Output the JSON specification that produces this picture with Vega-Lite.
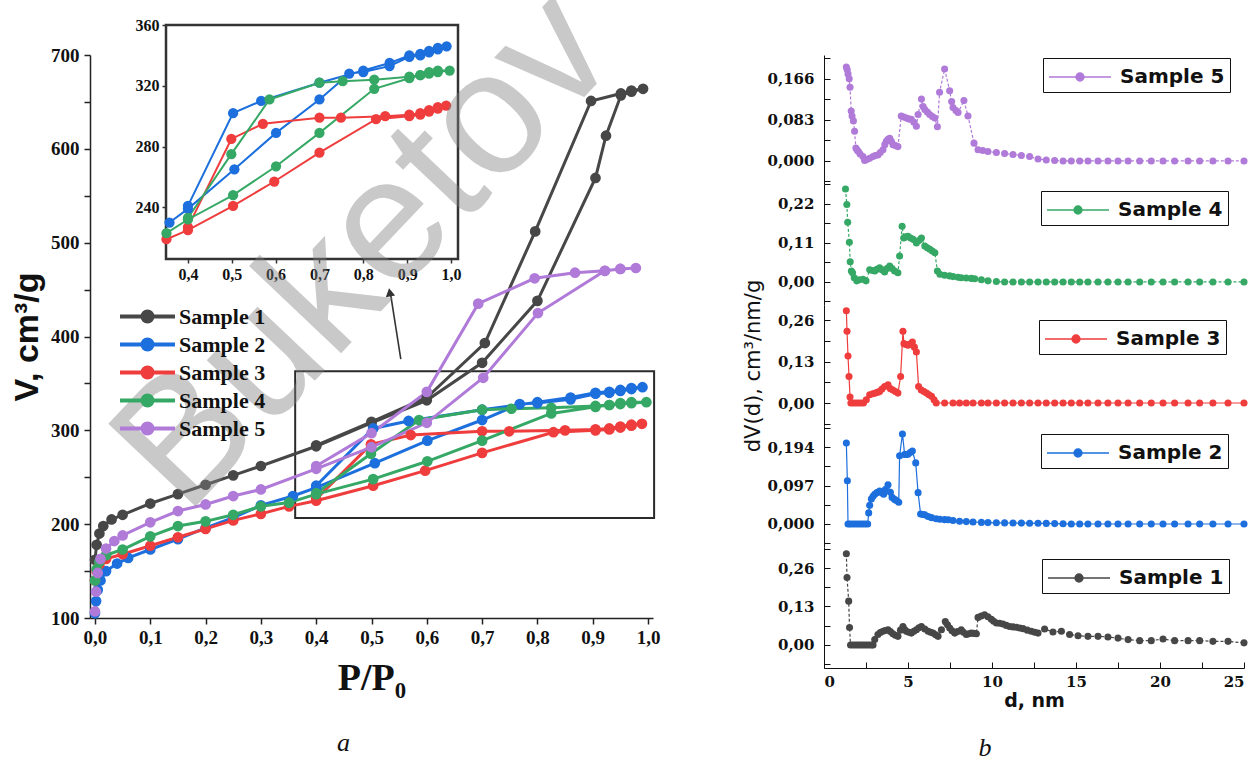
{
"$schema": "https://vega.github.io/schema/vega-lite/v6.json",
"background": "white",
"padding": {"left": 10, "top": -39, "right": 0, "bottom": 0},
"config": {"view": {"stroke": null}, "axis": {"grid": false}},
"datasets": {
"iso": [
{"s":"Sample 1","i":1,"p":0.0,"v":162},{"s":"Sample 1","i":2,"p":0.003,"v":178},{"s":"Sample 1","i":3,"p":0.008,"v":190},{"s":"Sample 1","i":4,"p":0.015,"v":198},{"s":"Sample 1","i":5,"p":0.03,"v":205},{"s":"Sample 1","i":6,"p":0.05,"v":210},{"s":"Sample 1","i":7,"p":0.1,"v":222},{"s":"Sample 1","i":8,"p":0.15,"v":232},{"s":"Sample 1","i":9,"p":0.2,"v":242},{"s":"Sample 1","i":10,"p":0.25,"v":252},{"s":"Sample 1","i":11,"p":0.3,"v":262},{"s":"Sample 1","i":12,"p":0.4,"v":283},{"s":"Sample 1","i":13,"p":0.5,"v":308},{"s":"Sample 1","i":14,"p":0.6,"v":332},{"s":"Sample 1","i":15,"p":0.7,"v":372},{"s":"Sample 1","i":16,"p":0.8,"v":438},{"s":"Sample 1","i":17,"p":0.905,"v":569},{"s":"Sample 1","i":18,"p":0.924,"v":614},{"s":"Sample 1","i":19,"p":0.951,"v":657},{"s":"Sample 1","i":20,"p":0.97,"v":661},{"s":"Sample 1","i":21,"p":0.991,"v":664},{"s":"Sample 1","i":22,"p":0.97,"v":662},{"s":"Sample 1","i":23,"p":0.951,"v":659},{"s":"Sample 1","i":24,"p":0.897,"v":651},{"s":"Sample 1","i":25,"p":0.796,"v":512},{"s":"Sample 1","i":26,"p":0.705,"v":393},{"s":"Sample 1","i":27,"p":0.6,"v":335},{"s":"Sample 1","i":28,"p":0.5,"v":309},{"s":"Sample 1","i":29,"p":0.4,"v":284},
{"s":"Sample 2","i":1,"p":0.0,"v":105},{"s":"Sample 2","i":2,"p":0.002,"v":118},{"s":"Sample 2","i":3,"p":0.005,"v":130},{"s":"Sample 2","i":4,"p":0.01,"v":140},{"s":"Sample 2","i":5,"p":0.02,"v":150},{"s":"Sample 2","i":6,"p":0.04,"v":158},{"s":"Sample 2","i":7,"p":0.06,"v":164},{"s":"Sample 2","i":8,"p":0.1,"v":173},{"s":"Sample 2","i":9,"p":0.15,"v":184},{"s":"Sample 2","i":10,"p":0.2,"v":196},{"s":"Sample 2","i":11,"p":0.25,"v":207},{"s":"Sample 2","i":12,"p":0.3,"v":220},{"s":"Sample 2","i":13,"p":0.358,"v":230},{"s":"Sample 2","i":14,"p":0.4,"v":239},{"s":"Sample 2","i":15,"p":0.506,"v":265},{"s":"Sample 2","i":16,"p":0.601,"v":289},{"s":"Sample 2","i":17,"p":0.7,"v":311},{"s":"Sample 2","i":18,"p":0.768,"v":328},{"s":"Sample 2","i":19,"p":0.8,"v":329},{"s":"Sample 2","i":20,"p":0.86,"v":333},{"s":"Sample 2","i":21,"p":0.905,"v":339},{"s":"Sample 2","i":22,"p":0.93,"v":340},{"s":"Sample 2","i":23,"p":0.95,"v":342},{"s":"Sample 2","i":24,"p":0.97,"v":344},{"s":"Sample 2","i":25,"p":0.99,"v":346},{"s":"Sample 2","i":26,"p":0.97,"v":345},{"s":"Sample 2","i":27,"p":0.95,"v":343},{"s":"Sample 2","i":28,"p":0.93,"v":341},{"s":"Sample 2","i":29,"p":0.905,"v":340},{"s":"Sample 2","i":30,"p":0.86,"v":335},{"s":"Sample 2","i":31,"p":0.8,"v":330},{"s":"Sample 2","i":32,"p":0.7,"v":322},{"s":"Sample 2","i":33,"p":0.567,"v":310},{"s":"Sample 2","i":34,"p":0.503,"v":302},{"s":"Sample 2","i":35,"p":0.4,"v":241},
{"s":"Sample 3","i":1,"p":0.0,"v":140},{"s":"Sample 3","i":2,"p":0.003,"v":150},{"s":"Sample 3","i":3,"p":0.008,"v":157},{"s":"Sample 3","i":4,"p":0.02,"v":163},{"s":"Sample 3","i":5,"p":0.05,"v":168},{"s":"Sample 3","i":6,"p":0.1,"v":177},{"s":"Sample 3","i":7,"p":0.15,"v":186},{"s":"Sample 3","i":8,"p":0.2,"v":195},{"s":"Sample 3","i":9,"p":0.25,"v":204},{"s":"Sample 3","i":10,"p":0.3,"v":211},{"s":"Sample 3","i":11,"p":0.351,"v":219},{"s":"Sample 3","i":12,"p":0.4,"v":225},{"s":"Sample 3","i":13,"p":0.503,"v":241},{"s":"Sample 3","i":14,"p":0.597,"v":257},{"s":"Sample 3","i":15,"p":0.7,"v":276},{"s":"Sample 3","i":16,"p":0.829,"v":298},{"s":"Sample 3","i":17,"p":0.905,"v":300},{"s":"Sample 3","i":18,"p":0.93,"v":301},{"s":"Sample 3","i":19,"p":0.95,"v":303},{"s":"Sample 3","i":20,"p":0.97,"v":305},{"s":"Sample 3","i":21,"p":0.989,"v":307},{"s":"Sample 3","i":22,"p":0.97,"v":306},{"s":"Sample 3","i":23,"p":0.95,"v":304},{"s":"Sample 3","i":24,"p":0.93,"v":302},{"s":"Sample 3","i":25,"p":0.905,"v":301},{"s":"Sample 3","i":26,"p":0.85,"v":300},{"s":"Sample 3","i":27,"p":0.749,"v":299},{"s":"Sample 3","i":28,"p":0.7,"v":299},{"s":"Sample 3","i":29,"p":0.571,"v":295},{"s":"Sample 3","i":30,"p":0.499,"v":285},{"s":"Sample 3","i":31,"p":0.4,"v":227},
{"s":"Sample 4","i":1,"p":0.0,"v":140},{"s":"Sample 4","i":2,"p":0.003,"v":152},{"s":"Sample 4","i":3,"p":0.008,"v":160},{"s":"Sample 4","i":4,"p":0.02,"v":167},{"s":"Sample 4","i":5,"p":0.05,"v":173},{"s":"Sample 4","i":6,"p":0.1,"v":187},{"s":"Sample 4","i":7,"p":0.15,"v":198},{"s":"Sample 4","i":8,"p":0.2,"v":203},{"s":"Sample 4","i":9,"p":0.25,"v":210},{"s":"Sample 4","i":10,"p":0.3,"v":219},{"s":"Sample 4","i":11,"p":0.351,"v":223},{"s":"Sample 4","i":12,"p":0.4,"v":232},{"s":"Sample 4","i":13,"p":0.503,"v":248},{"s":"Sample 4","i":14,"p":0.601,"v":267},{"s":"Sample 4","i":15,"p":0.7,"v":289},{"s":"Sample 4","i":16,"p":0.825,"v":318},{"s":"Sample 4","i":17,"p":0.905,"v":325},{"s":"Sample 4","i":18,"p":0.93,"v":327},{"s":"Sample 4","i":19,"p":0.95,"v":328},{"s":"Sample 4","i":20,"p":0.97,"v":329},{"s":"Sample 4","i":21,"p":0.997,"v":330},{"s":"Sample 4","i":22,"p":0.97,"v":330},{"s":"Sample 4","i":23,"p":0.95,"v":329},{"s":"Sample 4","i":24,"p":0.93,"v":327},{"s":"Sample 4","i":25,"p":0.905,"v":326},{"s":"Sample 4","i":26,"p":0.825,"v":324},{"s":"Sample 4","i":27,"p":0.753,"v":323},{"s":"Sample 4","i":28,"p":0.7,"v":322},{"s":"Sample 4","i":29,"p":0.586,"v":311},{"s":"Sample 4","i":30,"p":0.499,"v":275},{"s":"Sample 4","i":31,"p":0.4,"v":233},
{"s":"Sample 5","i":1,"p":0.0,"v":107},{"s":"Sample 5","i":2,"p":0.002,"v":128},{"s":"Sample 5","i":3,"p":0.005,"v":148},{"s":"Sample 5","i":4,"p":0.01,"v":163},{"s":"Sample 5","i":5,"p":0.02,"v":174},{"s":"Sample 5","i":6,"p":0.035,"v":182},{"s":"Sample 5","i":7,"p":0.05,"v":188},{"s":"Sample 5","i":8,"p":0.1,"v":202},{"s":"Sample 5","i":9,"p":0.15,"v":214},{"s":"Sample 5","i":10,"p":0.2,"v":221},{"s":"Sample 5","i":11,"p":0.25,"v":230},{"s":"Sample 5","i":12,"p":0.3,"v":237},{"s":"Sample 5","i":13,"p":0.4,"v":259},{"s":"Sample 5","i":14,"p":0.5,"v":282},{"s":"Sample 5","i":15,"p":0.6,"v":308},{"s":"Sample 5","i":16,"p":0.702,"v":356},{"s":"Sample 5","i":17,"p":0.801,"v":425},{"s":"Sample 5","i":18,"p":0.922,"v":470},{"s":"Sample 5","i":19,"p":0.95,"v":472},{"s":"Sample 5","i":20,"p":0.978,"v":473},{"s":"Sample 5","i":21,"p":0.95,"v":472},{"s":"Sample 5","i":22,"p":0.922,"v":470},{"s":"Sample 5","i":23,"p":0.868,"v":468},{"s":"Sample 5","i":24,"p":0.795,"v":462},{"s":"Sample 5","i":25,"p":0.693,"v":435},{"s":"Sample 5","i":26,"p":0.6,"v":341},{"s":"Sample 5","i":27,"p":0.5,"v":297},{"s":"Sample 5","i":28,"p":0.4,"v":262}
],
"psd": [
{"s":"Sample 5","d":1.33,"v":0.19},{"s":"Sample 5","d":1.38,"v":0.185},{"s":"Sample 5","d":1.43,"v":0.176},{"s":"Sample 5","d":1.5,"v":0.166},{"s":"Sample 5","d":1.55,"v":0.149},{"s":"Sample 5","d":1.62,"v":0.101},{"s":"Sample 5","d":1.67,"v":0.091},{"s":"Sample 5","d":1.75,"v":0.081},{"s":"Sample 5","d":1.82,"v":0.06},{"s":"Sample 5","d":1.9,"v":0.026},{"s":"Sample 5","d":1.97,"v":0.022},{"s":"Sample 5","d":2.05,"v":0.019},{"s":"Sample 5","d":2.15,"v":0.014},{"s":"Sample 5","d":2.32,"v":0.009},{"s":"Sample 5","d":2.42,"v":0.001},{"s":"Sample 5","d":2.55,"v":0.003},{"s":"Sample 5","d":2.72,"v":0.0055},{"s":"Sample 5","d":2.92,"v":0.009},{"s":"Sample 5","d":3.05,"v":0.011},{"s":"Sample 5","d":3.21,"v":0.012},{"s":"Sample 5","d":3.35,"v":0.017},{"s":"Sample 5","d":3.51,"v":0.0225},{"s":"Sample 5","d":3.62,"v":0.033},{"s":"Sample 5","d":3.71,"v":0.04},{"s":"Sample 5","d":3.81,"v":0.044},{"s":"Sample 5","d":3.91,"v":0.046},{"s":"Sample 5","d":4.01,"v":0.04},{"s":"Sample 5","d":4.11,"v":0.033},{"s":"Sample 5","d":4.25,"v":0.031},{"s":"Sample 5","d":4.4,"v":0.029},{"s":"Sample 5","d":4.6,"v":0.091},{"s":"Sample 5","d":4.75,"v":0.089},{"s":"Sample 5","d":4.9,"v":0.087},{"s":"Sample 5","d":5.05,"v":0.085},{"s":"Sample 5","d":5.2,"v":0.084},{"s":"Sample 5","d":5.35,"v":0.078},{"s":"Sample 5","d":5.5,"v":0.07},{"s":"Sample 5","d":5.6,"v":0.094},{"s":"Sample 5","d":5.8,"v":0.125},{"s":"Sample 5","d":5.9,"v":0.11},{"s":"Sample 5","d":6.0,"v":0.104},{"s":"Sample 5","d":6.15,"v":0.099},{"s":"Sample 5","d":6.29,"v":0.094},{"s":"Sample 5","d":6.45,"v":0.09},{"s":"Sample 5","d":6.59,"v":0.087},{"s":"Sample 5","d":6.75,"v":0.069},{"s":"Sample 5","d":6.88,"v":0.139},{"s":"Sample 5","d":7.18,"v":0.186},{"s":"Sample 5","d":7.48,"v":0.142},{"s":"Sample 5","d":7.6,"v":0.12},{"s":"Sample 5","d":7.68,"v":0.108},{"s":"Sample 5","d":7.85,"v":0.102},{"s":"Sample 5","d":7.98,"v":0.098},{"s":"Sample 5","d":8.33,"v":0.122},{"s":"Sample 5","d":8.57,"v":0.091},{"s":"Sample 5","d":8.93,"v":0.036},{"s":"Sample 5","d":9.17,"v":0.0225},{"s":"Sample 5","d":9.45,"v":0.021},{"s":"Sample 5","d":9.76,"v":0.019},{"s":"Sample 5","d":10.26,"v":0.017},{"s":"Sample 5","d":10.75,"v":0.015},{"s":"Sample 5","d":11.25,"v":0.013},{"s":"Sample 5","d":11.75,"v":0.011},{"s":"Sample 5","d":12.24,"v":0.009},{"s":"Sample 5","d":12.74,"v":0.004},{"s":"Sample 5","d":13.23,"v":0.002},{"s":"Sample 5","d":13.73,"v":0.001},{"s":"Sample 5","d":14.23,"v":0},{"s":"Sample 5","d":14.72,"v":0},{"s":"Sample 5","d":15.22,"v":0},{"s":"Sample 5","d":15.71,"v":0},{"s":"Sample 5","d":16.31,"v":0},{"s":"Sample 5","d":16.9,"v":0},{"s":"Sample 5","d":17.5,"v":0},{"s":"Sample 5","d":18.1,"v":0},{"s":"Sample 5","d":18.79,"v":0},{"s":"Sample 5","d":19.48,"v":0},{"s":"Sample 5","d":20.18,"v":0},{"s":"Sample 5","d":20.87,"v":0},{"s":"Sample 5","d":21.67,"v":0},{"s":"Sample 5","d":22.36,"v":0},{"s":"Sample 5","d":23.15,"v":0},{"s":"Sample 5","d":24.05,"v":0},{"s":"Sample 5","d":25.0,"v":0},
{"s":"Sample 4","d":1.28,"v":0.262},{"s":"Sample 4","d":1.36,"v":0.218},{"s":"Sample 4","d":1.41,"v":0.168},{"s":"Sample 4","d":1.51,"v":0.112},{"s":"Sample 4","d":1.56,"v":0.057},{"s":"Sample 4","d":1.63,"v":0.031},{"s":"Sample 4","d":1.7,"v":0.026},{"s":"Sample 4","d":1.8,"v":0.012},{"s":"Sample 4","d":1.95,"v":0.003},{"s":"Sample 4","d":2.1,"v":0.006},{"s":"Sample 4","d":2.32,"v":0.0075},{"s":"Sample 4","d":2.5,"v":0.003},{"s":"Sample 4","d":2.72,"v":0.034},{"s":"Sample 4","d":2.9,"v":0.032},{"s":"Sample 4","d":3.02,"v":0.031},{"s":"Sample 4","d":3.15,"v":0.036},{"s":"Sample 4","d":3.31,"v":0.04},{"s":"Sample 4","d":3.45,"v":0.034},{"s":"Sample 4","d":3.61,"v":0.028},{"s":"Sample 4","d":3.75,"v":0.038},{"s":"Sample 4","d":3.91,"v":0.045},{"s":"Sample 4","d":4.05,"v":0.038},{"s":"Sample 4","d":4.2,"v":0.031},{"s":"Sample 4","d":4.4,"v":0.026},{"s":"Sample 4","d":4.5,"v":0.073},{"s":"Sample 4","d":4.65,"v":0.157},{"s":"Sample 4","d":4.75,"v":0.124},{"s":"Sample 4","d":4.85,"v":0.127},{"s":"Sample 4","d":5.0,"v":0.129},{"s":"Sample 4","d":5.15,"v":0.124},{"s":"Sample 4","d":5.3,"v":0.12},{"s":"Sample 4","d":5.5,"v":0.11},{"s":"Sample 4","d":5.65,"v":0.117},{"s":"Sample 4","d":5.8,"v":0.124},{"s":"Sample 4","d":6.0,"v":0.101},{"s":"Sample 4","d":6.15,"v":0.096},{"s":"Sample 4","d":6.3,"v":0.092},{"s":"Sample 4","d":6.45,"v":0.087},{"s":"Sample 4","d":6.6,"v":0.082},{"s":"Sample 4","d":6.75,"v":0.031},{"s":"Sample 4","d":6.9,"v":0.0215},{"s":"Sample 4","d":7.18,"v":0.019},{"s":"Sample 4","d":7.48,"v":0.017},{"s":"Sample 4","d":7.68,"v":0.015},{"s":"Sample 4","d":7.98,"v":0.013},{"s":"Sample 4","d":8.17,"v":0.012},{"s":"Sample 4","d":8.47,"v":0.011},{"s":"Sample 4","d":8.77,"v":0.01},{"s":"Sample 4","d":8.97,"v":0.009},{"s":"Sample 4","d":9.37,"v":0.006},{"s":"Sample 4","d":9.76,"v":0.003},{"s":"Sample 4","d":10.26,"v":0.001},{"s":"Sample 4","d":10.75,"v":0},{"s":"Sample 4","d":11.25,"v":0},{"s":"Sample 4","d":11.75,"v":0},{"s":"Sample 4","d":12.24,"v":0},{"s":"Sample 4","d":12.74,"v":0},{"s":"Sample 4","d":13.23,"v":0},{"s":"Sample 4","d":13.73,"v":0},{"s":"Sample 4","d":14.23,"v":0},{"s":"Sample 4","d":14.72,"v":0},{"s":"Sample 4","d":15.22,"v":0},{"s":"Sample 4","d":15.71,"v":0},{"s":"Sample 4","d":16.31,"v":0},{"s":"Sample 4","d":16.9,"v":0},{"s":"Sample 4","d":17.5,"v":0},{"s":"Sample 4","d":18.1,"v":0},{"s":"Sample 4","d":18.79,"v":0},{"s":"Sample 4","d":19.48,"v":0},{"s":"Sample 4","d":20.18,"v":0},{"s":"Sample 4","d":20.87,"v":0},{"s":"Sample 4","d":21.67,"v":0},{"s":"Sample 4","d":22.36,"v":0},{"s":"Sample 4","d":23.15,"v":0},{"s":"Sample 4","d":24.05,"v":0},{"s":"Sample 4","d":25.0,"v":0},
{"s":"Sample 3","d":1.33,"v":0.289},{"s":"Sample 3","d":1.37,"v":0.225},{"s":"Sample 3","d":1.43,"v":0.147},{"s":"Sample 3","d":1.49,"v":0.083},{"s":"Sample 3","d":1.55,"v":0.019},{"s":"Sample 3","d":1.6,"v":0},{"s":"Sample 3","d":1.75,"v":0},{"s":"Sample 3","d":1.9,"v":0},{"s":"Sample 3","d":2.05,"v":0},{"s":"Sample 3","d":2.2,"v":0},{"s":"Sample 3","d":2.35,"v":0},{"s":"Sample 3","d":2.52,"v":0.01},{"s":"Sample 3","d":2.72,"v":0.026},{"s":"Sample 3","d":2.9,"v":0.029},{"s":"Sample 3","d":3.05,"v":0.031},{"s":"Sample 3","d":3.21,"v":0.034},{"s":"Sample 3","d":3.31,"v":0.036},{"s":"Sample 3","d":3.45,"v":0.044},{"s":"Sample 3","d":3.61,"v":0.052},{"s":"Sample 3","d":3.81,"v":0.057},{"s":"Sample 3","d":3.95,"v":0.045},{"s":"Sample 3","d":4.1,"v":0.041},{"s":"Sample 3","d":4.25,"v":0.036},{"s":"Sample 3","d":4.4,"v":0.031},{"s":"Sample 3","d":4.56,"v":0.083},{"s":"Sample 3","d":4.7,"v":0.225},{"s":"Sample 3","d":4.76,"v":0.186},{"s":"Sample 3","d":4.88,"v":0.183},{"s":"Sample 3","d":5.0,"v":0.181},{"s":"Sample 3","d":5.13,"v":0.185},{"s":"Sample 3","d":5.26,"v":0.191},{"s":"Sample 3","d":5.38,"v":0.175},{"s":"Sample 3","d":5.5,"v":0.16},{"s":"Sample 3","d":5.63,"v":0.052},{"s":"Sample 3","d":5.79,"v":0.041},{"s":"Sample 3","d":5.95,"v":0.036},{"s":"Sample 3","d":6.1,"v":0.031},{"s":"Sample 3","d":6.25,"v":0.026},{"s":"Sample 3","d":6.4,"v":0.021},{"s":"Sample 3","d":6.55,"v":0.01},{"s":"Sample 3","d":6.68,"v":0},{"s":"Sample 3","d":7.18,"v":0},{"s":"Sample 3","d":7.68,"v":0},{"s":"Sample 3","d":8.07,"v":0},{"s":"Sample 3","d":8.47,"v":0},{"s":"Sample 3","d":8.87,"v":0},{"s":"Sample 3","d":9.37,"v":0},{"s":"Sample 3","d":9.76,"v":0},{"s":"Sample 3","d":10.26,"v":0},{"s":"Sample 3","d":10.75,"v":0},{"s":"Sample 3","d":11.25,"v":0},{"s":"Sample 3","d":11.75,"v":0},{"s":"Sample 3","d":12.24,"v":0},{"s":"Sample 3","d":12.74,"v":0},{"s":"Sample 3","d":13.23,"v":0},{"s":"Sample 3","d":13.73,"v":0},{"s":"Sample 3","d":14.23,"v":0},{"s":"Sample 3","d":14.72,"v":0},{"s":"Sample 3","d":15.22,"v":0},{"s":"Sample 3","d":15.71,"v":0},{"s":"Sample 3","d":16.31,"v":0},{"s":"Sample 3","d":16.9,"v":0},{"s":"Sample 3","d":17.5,"v":0},{"s":"Sample 3","d":18.1,"v":0},{"s":"Sample 3","d":18.79,"v":0},{"s":"Sample 3","d":19.48,"v":0},{"s":"Sample 3","d":20.18,"v":0},{"s":"Sample 3","d":20.87,"v":0},{"s":"Sample 3","d":21.67,"v":0},{"s":"Sample 3","d":22.36,"v":0},{"s":"Sample 3","d":23.15,"v":0},{"s":"Sample 3","d":24.05,"v":0},{"s":"Sample 3","d":25.0,"v":0},
{"s":"Sample 2","d":1.33,"v":0.204},{"s":"Sample 2","d":1.39,"v":0.109},{"s":"Sample 2","d":1.43,"v":0},{"s":"Sample 2","d":1.55,"v":0},{"s":"Sample 2","d":1.7,"v":0},{"s":"Sample 2","d":1.85,"v":0},{"s":"Sample 2","d":2.0,"v":0},{"s":"Sample 2","d":2.15,"v":0},{"s":"Sample 2","d":2.3,"v":0},{"s":"Sample 2","d":2.45,"v":0},{"s":"Sample 2","d":2.6,"v":0},{"s":"Sample 2","d":2.66,"v":0.028},{"s":"Sample 2","d":2.72,"v":0.047},{"s":"Sample 2","d":2.82,"v":0.063},{"s":"Sample 2","d":2.92,"v":0.07},{"s":"Sample 2","d":3.02,"v":0.075},{"s":"Sample 2","d":3.15,"v":0.079},{"s":"Sample 2","d":3.31,"v":0.083},{"s":"Sample 2","d":3.45,"v":0.079},{"s":"Sample 2","d":3.55,"v":0.075},{"s":"Sample 2","d":3.65,"v":0.087},{"s":"Sample 2","d":3.81,"v":0.099},{"s":"Sample 2","d":3.95,"v":0.08},{"s":"Sample 2","d":4.05,"v":0.067},{"s":"Sample 2","d":4.2,"v":0.062},{"s":"Sample 2","d":4.31,"v":0.059},{"s":"Sample 2","d":4.45,"v":0.055},{"s":"Sample 2","d":4.5,"v":0.172},{"s":"Sample 2","d":4.67,"v":0.227},{"s":"Sample 2","d":4.8,"v":0.175},{"s":"Sample 2","d":4.9,"v":0.175},{"s":"Sample 2","d":5.0,"v":0.176},{"s":"Sample 2","d":5.13,"v":0.18},{"s":"Sample 2","d":5.26,"v":0.184},{"s":"Sample 2","d":5.46,"v":0.154},{"s":"Sample 2","d":5.6,"v":0.079},{"s":"Sample 2","d":5.75,"v":0.025},{"s":"Sample 2","d":5.88,"v":0.024},{"s":"Sample 2","d":6.0,"v":0.023},{"s":"Sample 2","d":6.2,"v":0.019},{"s":"Sample 2","d":6.4,"v":0.016},{"s":"Sample 2","d":6.68,"v":0.013},{"s":"Sample 2","d":6.9,"v":0.012},{"s":"Sample 2","d":7.18,"v":0.011},{"s":"Sample 2","d":7.4,"v":0.0105},{"s":"Sample 2","d":7.68,"v":0.009},{"s":"Sample 2","d":8.07,"v":0.007},{"s":"Sample 2","d":8.47,"v":0.006},{"s":"Sample 2","d":8.87,"v":0.005},{"s":"Sample 2","d":9.37,"v":0.004},{"s":"Sample 2","d":9.76,"v":0.0035},{"s":"Sample 2","d":10.26,"v":0.003},{"s":"Sample 2","d":10.75,"v":0.0028},{"s":"Sample 2","d":11.25,"v":0.0025},{"s":"Sample 2","d":11.75,"v":0.0022},{"s":"Sample 2","d":12.24,"v":0.002},{"s":"Sample 2","d":12.74,"v":0.0018},{"s":"Sample 2","d":13.23,"v":0.0015},{"s":"Sample 2","d":13.73,"v":0.001},{"s":"Sample 2","d":14.23,"v":0.0005},{"s":"Sample 2","d":14.72,"v":0},{"s":"Sample 2","d":15.22,"v":0},{"s":"Sample 2","d":15.71,"v":0},{"s":"Sample 2","d":16.31,"v":0},{"s":"Sample 2","d":16.9,"v":0},{"s":"Sample 2","d":17.5,"v":0},{"s":"Sample 2","d":18.1,"v":0},{"s":"Sample 2","d":18.79,"v":0},{"s":"Sample 2","d":19.48,"v":0},{"s":"Sample 2","d":20.18,"v":0},{"s":"Sample 2","d":20.87,"v":0},{"s":"Sample 2","d":21.67,"v":0},{"s":"Sample 2","d":22.36,"v":0},{"s":"Sample 2","d":23.15,"v":0},{"s":"Sample 2","d":24.05,"v":0},{"s":"Sample 2","d":25.0,"v":0},
{"s":"Sample 1","d":1.33,"v":0.308},{"s":"Sample 1","d":1.37,"v":0.228},{"s":"Sample 1","d":1.47,"v":0.148},{"s":"Sample 1","d":1.52,"v":0.059},{"s":"Sample 1","d":1.58,"v":0},{"s":"Sample 1","d":1.72,"v":0},{"s":"Sample 1","d":1.86,"v":0},{"s":"Sample 1","d":2.0,"v":0},{"s":"Sample 1","d":2.14,"v":0},{"s":"Sample 1","d":2.28,"v":0},{"s":"Sample 1","d":2.42,"v":0},{"s":"Sample 1","d":2.56,"v":0},{"s":"Sample 1","d":2.7,"v":0},{"s":"Sample 1","d":2.84,"v":0},{"s":"Sample 1","d":2.92,"v":0},{"s":"Sample 1","d":3.02,"v":0.018},{"s":"Sample 1","d":3.21,"v":0.035},{"s":"Sample 1","d":3.35,"v":0.042},{"s":"Sample 1","d":3.51,"v":0.046},{"s":"Sample 1","d":3.65,"v":0.049},{"s":"Sample 1","d":3.81,"v":0.051},{"s":"Sample 1","d":3.95,"v":0.045},{"s":"Sample 1","d":4.1,"v":0.038},{"s":"Sample 1","d":4.25,"v":0.033},{"s":"Sample 1","d":4.4,"v":0.029},{"s":"Sample 1","d":4.55,"v":0.05},{"s":"Sample 1","d":4.7,"v":0.0625},{"s":"Sample 1","d":4.8,"v":0.052},{"s":"Sample 1","d":4.9,"v":0.046},{"s":"Sample 1","d":5.05,"v":0.043},{"s":"Sample 1","d":5.2,"v":0.04},{"s":"Sample 1","d":5.35,"v":0.046},{"s":"Sample 1","d":5.5,"v":0.051},{"s":"Sample 1","d":5.65,"v":0.058},{"s":"Sample 1","d":5.8,"v":0.0625},{"s":"Sample 1","d":6.0,"v":0.054},{"s":"Sample 1","d":6.2,"v":0.046},{"s":"Sample 1","d":6.35,"v":0.043},{"s":"Sample 1","d":6.49,"v":0.04},{"s":"Sample 1","d":6.65,"v":0.034},{"s":"Sample 1","d":6.79,"v":0.029},{"s":"Sample 1","d":6.99,"v":0.051},{"s":"Sample 1","d":7.22,"v":0.079},{"s":"Sample 1","d":7.35,"v":0.068},{"s":"Sample 1","d":7.48,"v":0.057},{"s":"Sample 1","d":7.62,"v":0.048},{"s":"Sample 1","d":7.78,"v":0.04},{"s":"Sample 1","d":7.95,"v":0.045},{"s":"Sample 1","d":8.17,"v":0.051},{"s":"Sample 1","d":8.3,"v":0.043},{"s":"Sample 1","d":8.47,"v":0.035},{"s":"Sample 1","d":8.62,"v":0.038},{"s":"Sample 1","d":8.77,"v":0.04},{"s":"Sample 1","d":8.92,"v":0.039},{"s":"Sample 1","d":9.07,"v":0.038},{"s":"Sample 1","d":9.17,"v":0.093},{"s":"Sample 1","d":9.36,"v":0.098},{"s":"Sample 1","d":9.56,"v":0.102},{"s":"Sample 1","d":9.76,"v":0.095},{"s":"Sample 1","d":9.96,"v":0.087},{"s":"Sample 1","d":10.1,"v":0.08},{"s":"Sample 1","d":10.26,"v":0.074},{"s":"Sample 1","d":10.45,"v":0.073},{"s":"Sample 1","d":10.65,"v":0.071},{"s":"Sample 1","d":10.85,"v":0.066},{"s":"Sample 1","d":11.05,"v":0.0625},{"s":"Sample 1","d":11.25,"v":0.061},{"s":"Sample 1","d":11.45,"v":0.06},{"s":"Sample 1","d":11.65,"v":0.057},{"s":"Sample 1","d":11.85,"v":0.055},{"s":"Sample 1","d":12.1,"v":0.05},{"s":"Sample 1","d":12.34,"v":0.046},{"s":"Sample 1","d":12.55,"v":0.043},{"s":"Sample 1","d":12.74,"v":0.04},{"s":"Sample 1","d":13.13,"v":0.054},{"s":"Sample 1","d":13.63,"v":0.0435},{"s":"Sample 1","d":14.13,"v":0.046},{"s":"Sample 1","d":14.62,"v":0.035},{"s":"Sample 1","d":15.12,"v":0.031},{"s":"Sample 1","d":15.71,"v":0.029},{"s":"Sample 1","d":16.31,"v":0.029},{"s":"Sample 1","d":16.9,"v":0.027},{"s":"Sample 1","d":17.5,"v":0.023},{"s":"Sample 1","d":18.1,"v":0.018},{"s":"Sample 1","d":18.79,"v":0.0145},{"s":"Sample 1","d":19.48,"v":0.0145},{"s":"Sample 1","d":20.18,"v":0.02},{"s":"Sample 1","d":20.87,"v":0.0145},{"s":"Sample 1","d":21.67,"v":0.0145},{"s":"Sample 1","d":22.36,"v":0.0145},{"s":"Sample 1","d":23.15,"v":0.012},{"s":"Sample 1","d":24.05,"v":0.012},{"s":"Sample 1","d":25.0,"v":0.007}
]
},
"resolve": {"scale": {"color": "shared"}, "legend": {"color": "independent"}},
"spacing": 82,
"hconcat": [
{
"width": 563, "height": 563,
"title": {"text": "a", "orient": "bottom", "anchor": "middle", "font": "Liberation Serif", "fontSize": 26, "fontStyle": "italic", "fontWeight": "normal", "color": "#111", "offset": 33, "dx": -28},
"resolve": {"scale": {"x": "independent", "y": "independent"}},
"layer": [
{
"layer": [
{"data": {"values": [{"x1": 0.362, "x2": 1.011, "y1": 206.6, "y2": 363}]},
 "mark": {"type": "rect", "filled": false, "stroke": "#2a2a2a", "strokeWidth": 2},
 "encoding": {"x": {"field": "x1", "type": "quantitative", "scale": {"domain": [-0.009, 1.009], "nice": false, "zero": false},
   "axis": {"values": [0,0.05,0.1,0.15,0.2,0.25,0.3,0.35,0.4,0.45,0.5,0.55,0.6,0.65,0.7,0.75,0.8,0.85,0.9,0.95,1.0], "labelExpr": "abs(datum.value*10 - round(datum.value*10)) < 0.001 ? replace(format(datum.value, '.1f'), '.', ',') : ''", "title": "P/P\u2080", "titleFont": "Liberation Serif", "titleFontSize": 38, "titleFontWeight": "bold", "titleColor": "#111", "titlePadding": 12, "labelFont": "Liberation Serif", "labelFontWeight": "bold", "labelFontSize": 19, "labelColor": "#111", "tickColor": "#222", "domainColor": "#222", "domainWidth": 1.5, "tickWidth": 1.5, "tickSize": 6, "labelPadding": 4}},
  "x2": {"field": "x2"},
  "y": {"field": "y1", "type": "quantitative", "scale": {"domain": [100, 700], "nice": false, "zero": false},
   "axis": {"values": [100,150,200,250,300,350,400,450,500,550,600,650,700], "labelExpr": "datum.value % 100 == 0 ? datum.label : ''", "title": "V, cm\u00b3/g", "titleFont": "Liberation Sans", "titleFontSize": 34, "titleFontWeight": "bold", "titleColor": "#111", "titlePadding": 6, "labelFont": "Liberation Serif", "labelFontWeight": "bold", "labelFontSize": 19, "labelColor": "#111", "tickColor": "#222", "domainColor": "#222", "domainWidth": 1.5, "tickWidth": 1.5, "tickSize": 6, "labelPadding": 5}},
  "y2": {"field": "y2"}}},
{"data": {"values": [{"x1": 0.553, "y1": 376, "x2": 0.534, "y2": 447}]},
 "mark": {"type": "rule", "color": "#333", "strokeWidth": 1.6},
 "encoding": {"x": {"field": "x1", "type": "quantitative"}, "y": {"field": "y1", "type": "quantitative"}, "x2": {"field": "x2"}, "y2": {"field": "y2"}}},
{"data": {"values": [{"x": 0.533, "y": 447}]},
 "mark": {"type": "point", "shape": "triangle-up", "filled": true, "color": "#333", "size": 90, "angle": -10, "opacity": 1},
 "encoding": {"x": {"field": "x", "type": "quantitative"}, "y": {"field": "y", "type": "quantitative"}}},
{"data": {"name": "iso"},
 "mark": {"type": "line", "strokeWidth": 3},
 "encoding": {"x": {"field": "p", "type": "quantitative"}, "y": {"field": "v", "type": "quantitative"}, "order": {"field": "i", "type": "quantitative"},
  "color": {"field": "s", "type": "nominal", "scale": {"domain": ["Sample 1","Sample 2","Sample 3","Sample 4","Sample 5"], "range": ["#474747","#1c6fdc","#ef3d3d","#36a865","#b07ad9"]},
   "legend": {"orient": "none", "legendX": 28, "legendY": 247, "title": null, "padding": 0, "rowPadding": 0, "symbolType": "M-2.2,0L2.2,0M-0.4,0A0.4,0.4,0,1,1,0.4,0A0.4,0.4,0,1,1,-0.4,0Z", "symbolSize": 625, "symbolStrokeWidth": 4, "symbolOffset": 15, "labelOffset": 17, "labelFont": "Liberation Serif", "labelFontWeight": "bold", "labelFontSize": 22, "labelColor": "#111",
    "encode": {"symbols": {"update": {"fill": {"scale": "color", "field": "value"}, "stroke": {"scale": "color", "field": "value"}, "opacity": {"value": 1}}}}}}}},
{"data": {"name": "iso"},
 "mark": {"type": "point", "filled": true, "size": 115, "opacity": 1},
 "encoding": {"x": {"field": "p", "type": "quantitative"}, "y": {"field": "v", "type": "quantitative"}, "color": {"field": "s", "type": "nominal"}}}
]
},
{
"layer": [
{"data": {"values": [{"x1": 0.35, "x2": 1.016, "y1": 206, "y2": 360}]},
 "mark": {"type": "rect", "fill": "white", "stroke": "#333", "strokeWidth": 2.5},
 "encoding": {"x": {"field": "x1", "type": "quantitative", "scale": {"domain": [0.35, 1.016], "range": [76, 368], "nice": false, "zero": false},
   "axis": {"orient": "bottom", "offset": -359, "values": [0.4,0.5,0.6,0.7,0.8,0.9,1.0], "labelExpr": "replace(format(datum.value, '.1f'), '.', ',')", "title": null, "domain": false, "labelFont": "Liberation Serif", "labelFontWeight": "bold", "labelFontSize": 16, "labelColor": "#111", "tickColor": "#333", "tickSize": 4, "tickWidth": 1.5, "labelPadding": 3}},
  "x2": {"field": "x2"},
  "y": {"field": "y1", "type": "quantitative", "scale": {"domain": [206, 360], "range": [204, -30], "nice": false, "zero": false},
   "axis": {"orient": "left", "offset": -76, "values": [240, 280, 320, 360], "title": null, "domain": false, "labelFont": "Liberation Serif", "labelFontWeight": "bold", "labelFontSize": 16, "labelColor": "#111", "tickColor": "#333", "tickSize": 4, "tickWidth": 1.5, "labelPadding": 3}},
  "y2": {"field": "y2"}}},
{"data": {"name": "iso"},
 "transform": [{"filter": "datum.p >= 0.35 && (datum.s == 'Sample 2' || datum.s == 'Sample 3' || datum.s == 'Sample 4')"}],
 "mark": {"type": "line", "strokeWidth": 2},
 "encoding": {"x": {"field": "p", "type": "quantitative"}, "y": {"field": "v", "type": "quantitative"}, "order": {"field": "i", "type": "quantitative"}, "color": {"field": "s", "type": "nominal"}}},
{"data": {"name": "iso"},
 "transform": [{"filter": "datum.p >= 0.35 && (datum.s == 'Sample 2' || datum.s == 'Sample 3' || datum.s == 'Sample 4')"}],
 "mark": {"type": "point", "filled": true, "size": 105, "opacity": 1},
 "encoding": {"x": {"field": "p", "type": "quantitative"}, "y": {"field": "v", "type": "quantitative"}, "color": {"field": "s", "type": "nominal"}}}
]
},
{"data": {"values": [{"t": "Buketov", "x": 0.488, "y": 491}]},
 "mark": {"type": "text", "font": "Liberation Sans", "fontSize": 175, "angle": -46.5, "color": "#808080", "opacity": 0.42, "align": "center", "baseline": "middle"},
 "encoding": {"x": {"field": "x", "type": "quantitative", "scale": {"domain": [-0.009, 1.009], "nice": false, "zero": false}, "axis": null}, "y": {"field": "y", "type": "quantitative", "scale": {"domain": [100, 700], "nice": false, "zero": false}, "axis": null}, "text": {"field": "t"}}}
]
},
{
"spacing": 0,
"bounds": "flush",
"resolve": {"legend": {"color": "independent"}},
"title": {"text": "b", "orient": "bottom", "anchor": "middle", "font": "Liberation Serif", "fontSize": 26, "fontStyle": "italic", "fontWeight": "normal", "color": "#111", "offset": 25, "dx": -10},
"vconcat": [
{"width": 420, "height": 129, "data": {"name": "psd"}, "transform": [{"filter": "datum.s == 'Sample 5'"}],
 "encoding": {"x": {"field": "d", "type": "quantitative", "scale": {"domain": [0, 25], "nice": false, "zero": false}, "axis": null},
  "y": {"field": "v", "type": "quantitative", "scale": {"domain": [-0.0466, 0.2142], "nice": false, "zero": false},
   "axis": {"values": [-0.0415,0,0.0415,0.083,0.1245,0.166,0.2075], "labelExpr": "datum.value == 0 ? '0,000' : abs(datum.value - 0.083) < 0.0001 ? '0,083' : abs(datum.value - 0.166) < 0.0001 ? '0,166' : ''", "title": null, "labelFont": "DejaVu Serif", "labelFontWeight": "bold", "labelFontSize": 15, "labelColor": "#111", "tickSize": -6, "labelPadding": 16, "tickColor": "#111", "domainColor": "#111"}},
  "color": {"field": "s", "type": "nominal"}},
 "layer": [
  {"mark": {"type": "line", "strokeWidth": 1.2, "strokeDash": [3, 2]},
   "encoding": {"color": {"field": "s", "type": "nominal", "legend": {"values": ["Sample 5"], "orient": "none", "legendX": 219, "legendY": 3, "title": null, "padding": 5, "strokeColor": "#111", "fillColor": "white", "symbolType": "M-2.385,0L2.385,0M-0.3,0A0.3,0.3,0,1,1,0.3,0A0.3,0.3,0,1,1,-0.3,0Z", "symbolSize": 676, "symbolStrokeWidth": 1.5, "symbolOffset": 18, "labelOffset": 26, "labelFont": "DejaVu Sans", "labelFontWeight": "bold", "labelFontSize": 20, "labelColor": "#111", "encode": {"symbols": {"update": {"fill": {"scale": "color", "field": "value"}, "stroke": {"scale": "color", "field": "value"}, "opacity": {"value": 1}}}}}}}},
  {"mark": {"type": "point", "filled": true, "size": 50, "opacity": 1}}
 ]},
{"width": 420, "height": 121, "data": {"name": "psd"}, "transform": [{"filter": "datum.s == 'Sample 4'"}],
 "encoding": {"x": {"field": "d", "type": "quantitative", "scale": {"domain": [0, 25], "nice": false, "zero": false}, "axis": null},
  "y": {"field": "v", "type": "quantitative", "scale": {"domain": [-0.065, 0.276], "nice": false, "zero": false},
   "axis": {"values": [-0.055,0,0.055,0.11,0.165,0.22,0.275], "labelExpr": "datum.value == 0 ? '0,00' : abs(datum.value - 0.11) < 0.0001 ? '0,11' : abs(datum.value - 0.22) < 0.0001 ? '0,22' : ''", "title": null, "labelFont": "DejaVu Serif", "labelFontWeight": "bold", "labelFontSize": 15, "labelColor": "#111", "tickSize": -6, "labelPadding": 16, "tickColor": "#111", "domainColor": "#111"}},
  "color": {"field": "s", "type": "nominal"}},
 "layer": [
  {"mark": {"type": "line", "strokeWidth": 1.2, "strokeDash": [3, 2]},
   "encoding": {"color": {"field": "s", "type": "nominal", "legend": {"values": ["Sample 4"], "orient": "none", "legendX": 217, "legendY": 7, "title": null, "padding": 5, "strokeColor": "#111", "fillColor": "white", "symbolType": "M-2.385,0L2.385,0M-0.3,0A0.3,0.3,0,1,1,0.3,0A0.3,0.3,0,1,1,-0.3,0Z", "symbolSize": 676, "symbolStrokeWidth": 1.5, "symbolOffset": 18, "labelOffset": 26, "labelFont": "DejaVu Sans", "labelFontWeight": "bold", "labelFontSize": 20, "labelColor": "#111", "encode": {"symbols": {"update": {"fill": {"scale": "color", "field": "value"}, "stroke": {"scale": "color", "field": "value"}, "opacity": {"value": 1}}}}}}}},
  {"mark": {"type": "point", "filled": true, "size": 50, "opacity": 1}}
 ]},
{"width": 420, "height": 121, "data": {"name": "psd"}, "transform": [{"filter": "datum.s == 'Sample 3'"}],
 "encoding": {"x": {"field": "d", "type": "quantitative", "scale": {"domain": [0, 25], "nice": false, "zero": false}, "axis": null},
  "y": {"field": "v", "type": "quantitative", "scale": {"domain": [-0.072, 0.307], "nice": false, "zero": false},
   "axis": {"values": [-0.065,0,0.065,0.13,0.195,0.26], "labelExpr": "datum.value == 0 ? '0,00' : abs(datum.value - 0.13) < 0.0001 ? '0,13' : abs(datum.value - 0.26) < 0.0001 ? '0,26' : ''", "title": "dV(d), cm\u00b3/nm/g", "titleFont": "DejaVu Sans", "titleFontSize": 21, "titleFontWeight": "normal", "titleColor": "#111", "titlePadding": 14, "labelFont": "DejaVu Serif", "labelFontWeight": "bold", "labelFontSize": 15, "labelColor": "#111", "tickSize": -6, "labelPadding": 16, "tickColor": "#111", "domainColor": "#111"}},
  "color": {"field": "s", "type": "nominal"}},
 "layer": [
  {"mark": {"type": "line", "strokeWidth": 1.2},
   "encoding": {"color": {"field": "s", "type": "nominal", "legend": {"values": ["Sample 3"], "orient": "none", "legendX": 215, "legendY": 15, "title": null, "padding": 5, "strokeColor": "#111", "fillColor": "white", "symbolType": "M-2.385,0L2.385,0M-0.3,0A0.3,0.3,0,1,1,0.3,0A0.3,0.3,0,1,1,-0.3,0Z", "symbolSize": 676, "symbolStrokeWidth": 1.5, "symbolOffset": 18, "labelOffset": 26, "labelFont": "DejaVu Sans", "labelFontWeight": "bold", "labelFontSize": 20, "labelColor": "#111", "encode": {"symbols": {"update": {"fill": {"scale": "color", "field": "value"}, "stroke": {"scale": "color", "field": "value"}, "opacity": {"value": 1}}}}}}}},
  {"mark": {"type": "point", "filled": true, "size": 50, "opacity": 1}}
 ]},
{"width": 420, "height": 121, "data": {"name": "psd"}, "transform": [{"filter": "datum.s == 'Sample 2'"}],
 "encoding": {"x": {"field": "d", "type": "quantitative", "scale": {"domain": [0, 25], "nice": false, "zero": false}, "axis": null},
  "y": {"field": "v", "type": "quantitative", "scale": {"domain": [-0.058, 0.247], "nice": false, "zero": false},
   "axis": {"values": [-0.0485,0,0.0485,0.097,0.1455,0.194,0.2425], "labelExpr": "datum.value == 0 ? '0,000' : abs(datum.value - 0.097) < 0.0001 ? '0,097' : abs(datum.value - 0.194) < 0.0001 ? '0,194' : ''", "title": null, "labelFont": "DejaVu Serif", "labelFontWeight": "bold", "labelFontSize": 15, "labelColor": "#111", "tickSize": -6, "labelPadding": 16, "tickColor": "#111", "domainColor": "#111"}},
  "color": {"field": "s", "type": "nominal"}},
 "layer": [
  {"mark": {"type": "line", "strokeWidth": 1.2},
   "encoding": {"color": {"field": "s", "type": "nominal", "legend": {"values": ["Sample 2"], "orient": "none", "legendX": 217, "legendY": 8, "title": null, "padding": 5, "strokeColor": "#111", "fillColor": "white", "symbolType": "M-2.385,0L2.385,0M-0.3,0A0.3,0.3,0,1,1,0.3,0A0.3,0.3,0,1,1,-0.3,0Z", "symbolSize": 676, "symbolStrokeWidth": 1.5, "symbolOffset": 18, "labelOffset": 26, "labelFont": "DejaVu Sans", "labelFontWeight": "bold", "labelFontSize": 20, "labelColor": "#111", "encode": {"symbols": {"update": {"fill": {"scale": "color", "field": "value"}, "stroke": {"scale": "color", "field": "value"}, "opacity": {"value": 1}}}}}}}},
  {"mark": {"type": "point", "filled": true, "size": 50, "opacity": 1}}
 ]},
{"width": 420, "height": 121, "data": {"name": "psd"}, "transform": [{"filter": "datum.s == 'Sample 1'"}],
 "encoding": {"x": {"field": "d", "type": "quantitative", "scale": {"domain": [0, 25], "nice": false, "zero": false},
   "axis": {"values": [0,2.5,5,7.5,10,12.5,15,17.5,20,22.5,25], "labelExpr": "datum.value % 5 == 0 ? datum.label : ''", "title": "d, nm", "titleFont": "DejaVu Sans", "titleFontSize": 19, "titleFontWeight": "bold", "titleColor": "#111", "titlePadding": 2, "labelFont": "DejaVu Serif", "labelFontWeight": "bold", "labelFontSize": 15, "labelColor": "#111", "tickSize": -6, "labelPadding": 12, "tickColor": "#111", "domainColor": "#111"}},
  "y": {"field": "v", "type": "quantitative", "scale": {"domain": [-0.078, 0.331], "nice": false, "zero": false},
   "axis": {"values": [-0.065,0,0.065,0.13,0.195,0.26,0.325], "labelExpr": "datum.value == 0 ? '0,00' : abs(datum.value - 0.13) < 0.0001 ? '0,13' : abs(datum.value - 0.26) < 0.0001 ? '0,26' : ''", "title": null, "labelFont": "DejaVu Serif", "labelFontWeight": "bold", "labelFontSize": 15, "labelColor": "#111", "tickSize": -6, "labelPadding": 16, "tickColor": "#111", "domainColor": "#111"}},
  "color": {"field": "s", "type": "nominal"}},
 "layer": [
  {"mark": {"type": "line", "strokeWidth": 1.2, "strokeDash": [3, 2]},
   "encoding": {"color": {"field": "s", "type": "nominal", "legend": {"values": ["Sample 1"], "orient": "none", "legendX": 218, "legendY": 12, "title": null, "padding": 5, "strokeColor": "#111", "fillColor": "white", "symbolType": "M-2.385,0L2.385,0M-0.3,0A0.3,0.3,0,1,1,0.3,0A0.3,0.3,0,1,1,-0.3,0Z", "symbolSize": 676, "symbolStrokeWidth": 1.5, "symbolOffset": 18, "labelOffset": 26, "labelFont": "DejaVu Sans", "labelFontWeight": "bold", "labelFontSize": 20, "labelColor": "#111", "encode": {"symbols": {"update": {"fill": {"scale": "color", "field": "value"}, "stroke": {"scale": "color", "field": "value"}, "opacity": {"value": 1}}}}}}}},
  {"mark": {"type": "point", "filled": true, "size": 50, "opacity": 1}}
 ]}
]
}
]
}
